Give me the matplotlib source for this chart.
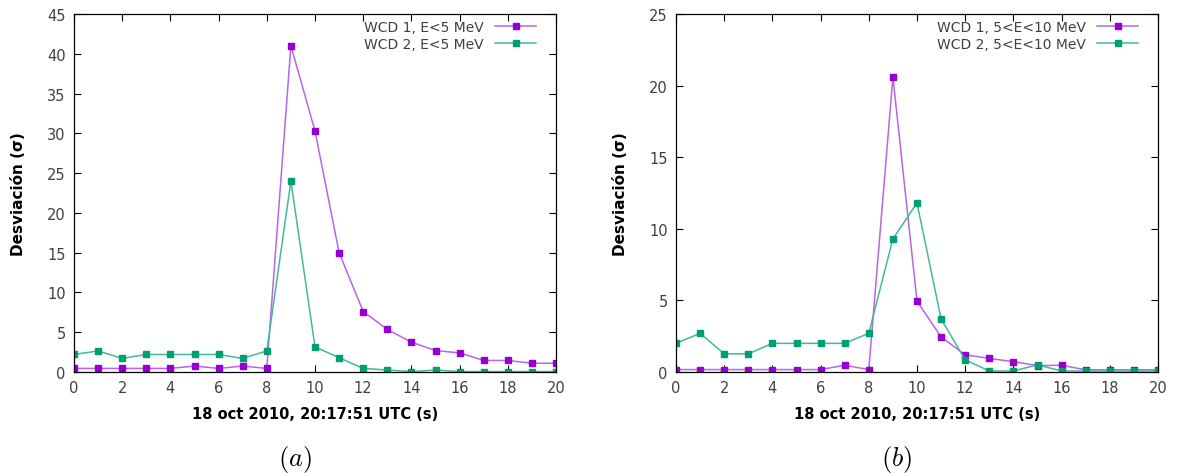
import matplotlib.pyplot as plt
import numpy as np

plt.rcParams['font.family'] = ['DejaVu Sans']
plt.rcParams['mathtext.fontset'] = 'cm'

t = np.arange(0, 21)

# panel (a): E < 5 MeV
wcd1_a = [0.45, 0.45, 0.45, 0.45, 0.45, 0.75, 0.45, 0.75, 0.45, 41.0, 30.3,
          15.0, 7.6, 5.35, 3.75, 2.7, 2.4, 1.45, 1.45, 1.1, 1.1]
wcd2_a = [2.2, 2.65, 1.7, 2.2, 2.2, 2.2, 2.2, 1.7, 2.65, 24.0, 3.15,
          1.8, 0.45, 0.25, 0.05, 0.25, 0.05, 0.05, 0.05, 0.05, 0.05]

# panel (b): 5 < E < 10 MeV
wcd1_b = [0.17, 0.17, 0.17, 0.17, 0.17, 0.17, 0.17, 0.47, 0.17, 20.6, 4.95,
          2.45, 1.2, 0.95, 0.72, 0.45, 0.47, 0.15, 0.15, 0.15, 0.15]
wcd2_b = [2.0, 2.7, 1.27, 1.27, 2.0, 2.0, 2.0, 2.0, 2.7, 9.3, 11.8,
          3.7, 0.85, 0.07, 0.07, 0.5, 0.07, 0.07, 0.07, 0.07, 0.07]

labels_a = ['WCD 1, E<5 MeV', 'WCD 2, E<5 MeV']
labels_b = ['WCD 1, 5<E<10 MeV', 'WCD 2, 5<E<10 MeV']

purple = '#9400d3'
green = '#009e73'
purple_line = '#b865e8'
green_line = '#45b896'
tick_gray = '#404040'

fig = plt.figure(figsize=(11.81, 4.77), dpi=100)
ax1 = fig.add_axes([74 / 1181, 1 - 373 / 477, 482 / 1181, 358 / 477])
ax2 = fig.add_axes([676 / 1181, 1 - 373 / 477, 482 / 1181, 358 / 477])


def panel(ax, y1, y2, labels, ymax, tag, tag_x):
    ax.plot(t, y1, '-s', color=purple_line, mfc=purple, mec=purple,
            ms=5, lw=1.1, label=labels[0])
    ax.plot(t, y2, '-s', color=green_line, mfc=green, mec=green,
            ms=5, lw=1.1, label=labels[1])
    ax.set_xlim(0, 20)
    ax.set_ylim(0, ymax)
    ax.set_xticks(np.arange(0, 21, 2))
    ax.set_yticks(np.arange(0, ymax + 1, 5))
    ax.tick_params(direction='in', top=True, right=True, length=5,
                   width=0.8, labelsize=10.5, labelcolor=tick_gray, pad=6)
    for s in ax.spines.values():
        s.set_linewidth(0.9)
    ax.set_xlabel('18 oct 2010, 20:17:51 UTC (s)', fontsize=10.5,
                  fontweight='bold', labelpad=8)
    ax.set_ylabel('Desviación (σ)', fontsize=11, fontweight='bold',
                  labelpad=15)
    leg = ax.legend(loc='upper right', bbox_to_anchor=(1 - 14 / 482, 1),
                    frameon=False, markerfirst=False,
                    fontsize=10, handlelength=3.0, borderaxespad=0.3,
                    borderpad=0.1, labelspacing=0.25, handletextpad=0.8)
    for txt in leg.get_texts():
        txt.set_color(tick_gray)
    # panel tag under the axes
    fig.text(tag_x / 1181, 1 - 460 / 477, tag, ha='center', va='center',
             fontsize=19)


panel(ax1, wcd1_a, wcd2_a, labels_a, 45, '$(a)$', 295)
panel(ax2, wcd1_b, wcd2_b, labels_b, 25, '$(b)$', 897)

fig.savefig('out.png', dpi=100)
